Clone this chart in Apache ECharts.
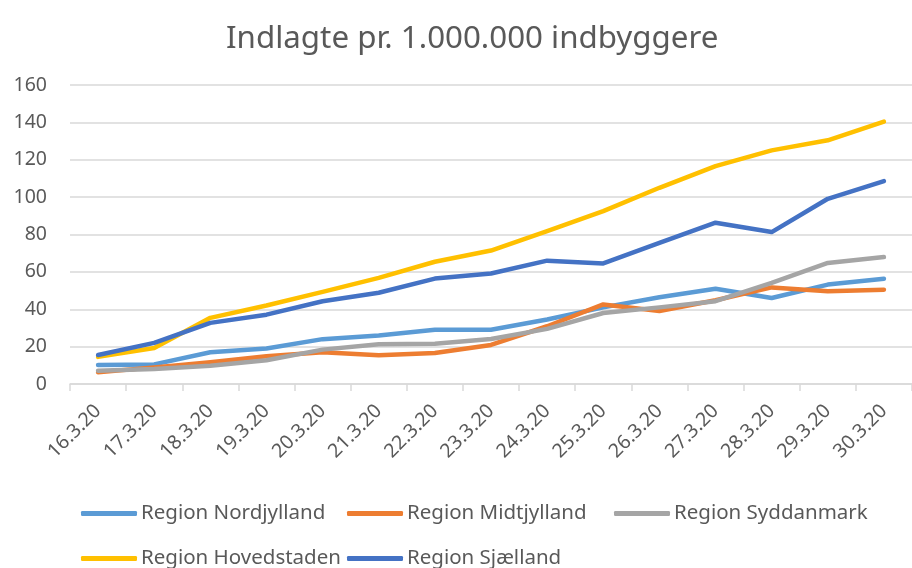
<!DOCTYPE html>
<html>
<head>
<meta charset="utf-8">
<script src="https://cdn.jsdelivr.net/npm/echarts@6/dist/echarts.min.js"></script>
<style>
  html, body { margin: 0; padding: 0; background: #fff; }
  #chart { width: 912px; height: 568px; }
</style>
</head>
<body>
<div id="chart"></div>
<script>
// dates on the x axis
var dates = ['16.3.20', '17.3.20', '18.3.20', '19.3.20', '20.3.20', '21.3.20', '22.3.20', '23.3.20',
  '24.3.20', '25.3.20', '26.3.20', '27.3.20', '28.3.20', '29.3.20', '30.3.20'];

// admitted per 1.000.000 inhabitants
var nordjylland = [10.2, 10.5, 17, 19, 24, 26, 29, 29, 34.5, 41, 46.4, 51, 46, 53.2, 56.3];
var midtjylland = [6.3, 8.9, 11.6, 14.8, 17, 15.4, 16.6, 20.9, 30.9, 42.6, 39.1, 44.8, 51.7, 49.6, 50.5];
var syddanmark = [7.1, 8, 9.8, 12.7, 18.4, 21.3, 21.6, 24.1, 29.5, 38, 41, 44.3, 54.1, 64.8, 67.9];
var hovedstaden = [14.5, 19.3, 35.4, 42, 49.3, 56.8, 65.4, 71.4, 81.8, 92.5, 105, 116.6, 125, 130.4, 140.4];
var sjaelland = [15.5, 22, 32.7, 37.1, 44.3, 48.8, 56.4, 59.1, 66, 64.5, 75.5, 86.3, 81.3, 99.1, 108.6];

var names = ['Region Nordjylland', 'Region Midtjylland', 'Region Syddanmark', 'Region Hovedstaden', 'Region Sjælland'];
var colors = ['#5B9BD5', '#ED7D31', '#A5A5A5', '#FFC000', '#4472C4'];
var values = [nordjylland, midtjylland, syddanmark, hovedstaden, sjaelland];

// legend slots, Excel puts them in columns
var legendLeft = [81, 347, 614, 81, 347];
var legendRowY = [512, 512, 512, 557, 557];

var font = 'Noto Sans';
var textColor = '#595959';

var chart = echarts.init(document.getElementById('chart'), null, { renderer: 'canvas' });

var legends = [];
var series = [];
for (var i = 0; i < names.length; i++) {
  legends.push({
    orient: 'horizontal',
    left: legendLeft[i],
    top: legendRowY[i] - 9,
    padding: 0,
    icon: 'roundRect',
    itemWidth: 56,
    itemHeight: 5,
    data: [names[i]],
    textStyle: { color: textColor, fontFamily: font, fontSize: 20.5, padding: [0, 0, 0, -1] }
  });
  series.push({
    name: names[i],
    type: 'line',
    data: values[i],
    symbol: 'none',
    color: colors[i],
    lineStyle: { width: 4.5, color: colors[i], cap: 'round', join: 'round' }
  });
}

var option = {
  animation: false,
  title: {
    text: 'Indlagte pr. 1.000.000 indbyggere',
    left: 221,
    top: 19,
    textStyle: { color: textColor, fontFamily: font, fontSize: 31.3, fontWeight: 'normal' }
  },
  legend: legends,
  grid: { left: 70, top: 85, width: 855, height: 299, containLabel: false },
  xAxis: {
    type: 'category',
    data: dates,
    boundaryGap: true,
    axisLine: { lineStyle: { color: '#D9D9D9', width: 1.5 } },
    axisTick: { show: true, length: 7, lineStyle: { color: '#D9D9D9', width: 1.5 } },
    axisLabel: { rotate: 45, margin: 24, color: textColor, fontFamily: font, fontSize: 19.5 }
  },
  yAxis: {
    type: 'value',
    min: 0,
    max: 160,
    interval: 20,
    axisLine: { show: false },
    axisTick: { show: false },
    axisLabel: { margin: 23, color: textColor, fontFamily: font, fontSize: 19.5 },
    splitLine: { lineStyle: { color: '#D9D9D9', width: 1.5 } }
  },
  series: series
};

chart.setOption(option);
</script>
</body>
</html>
